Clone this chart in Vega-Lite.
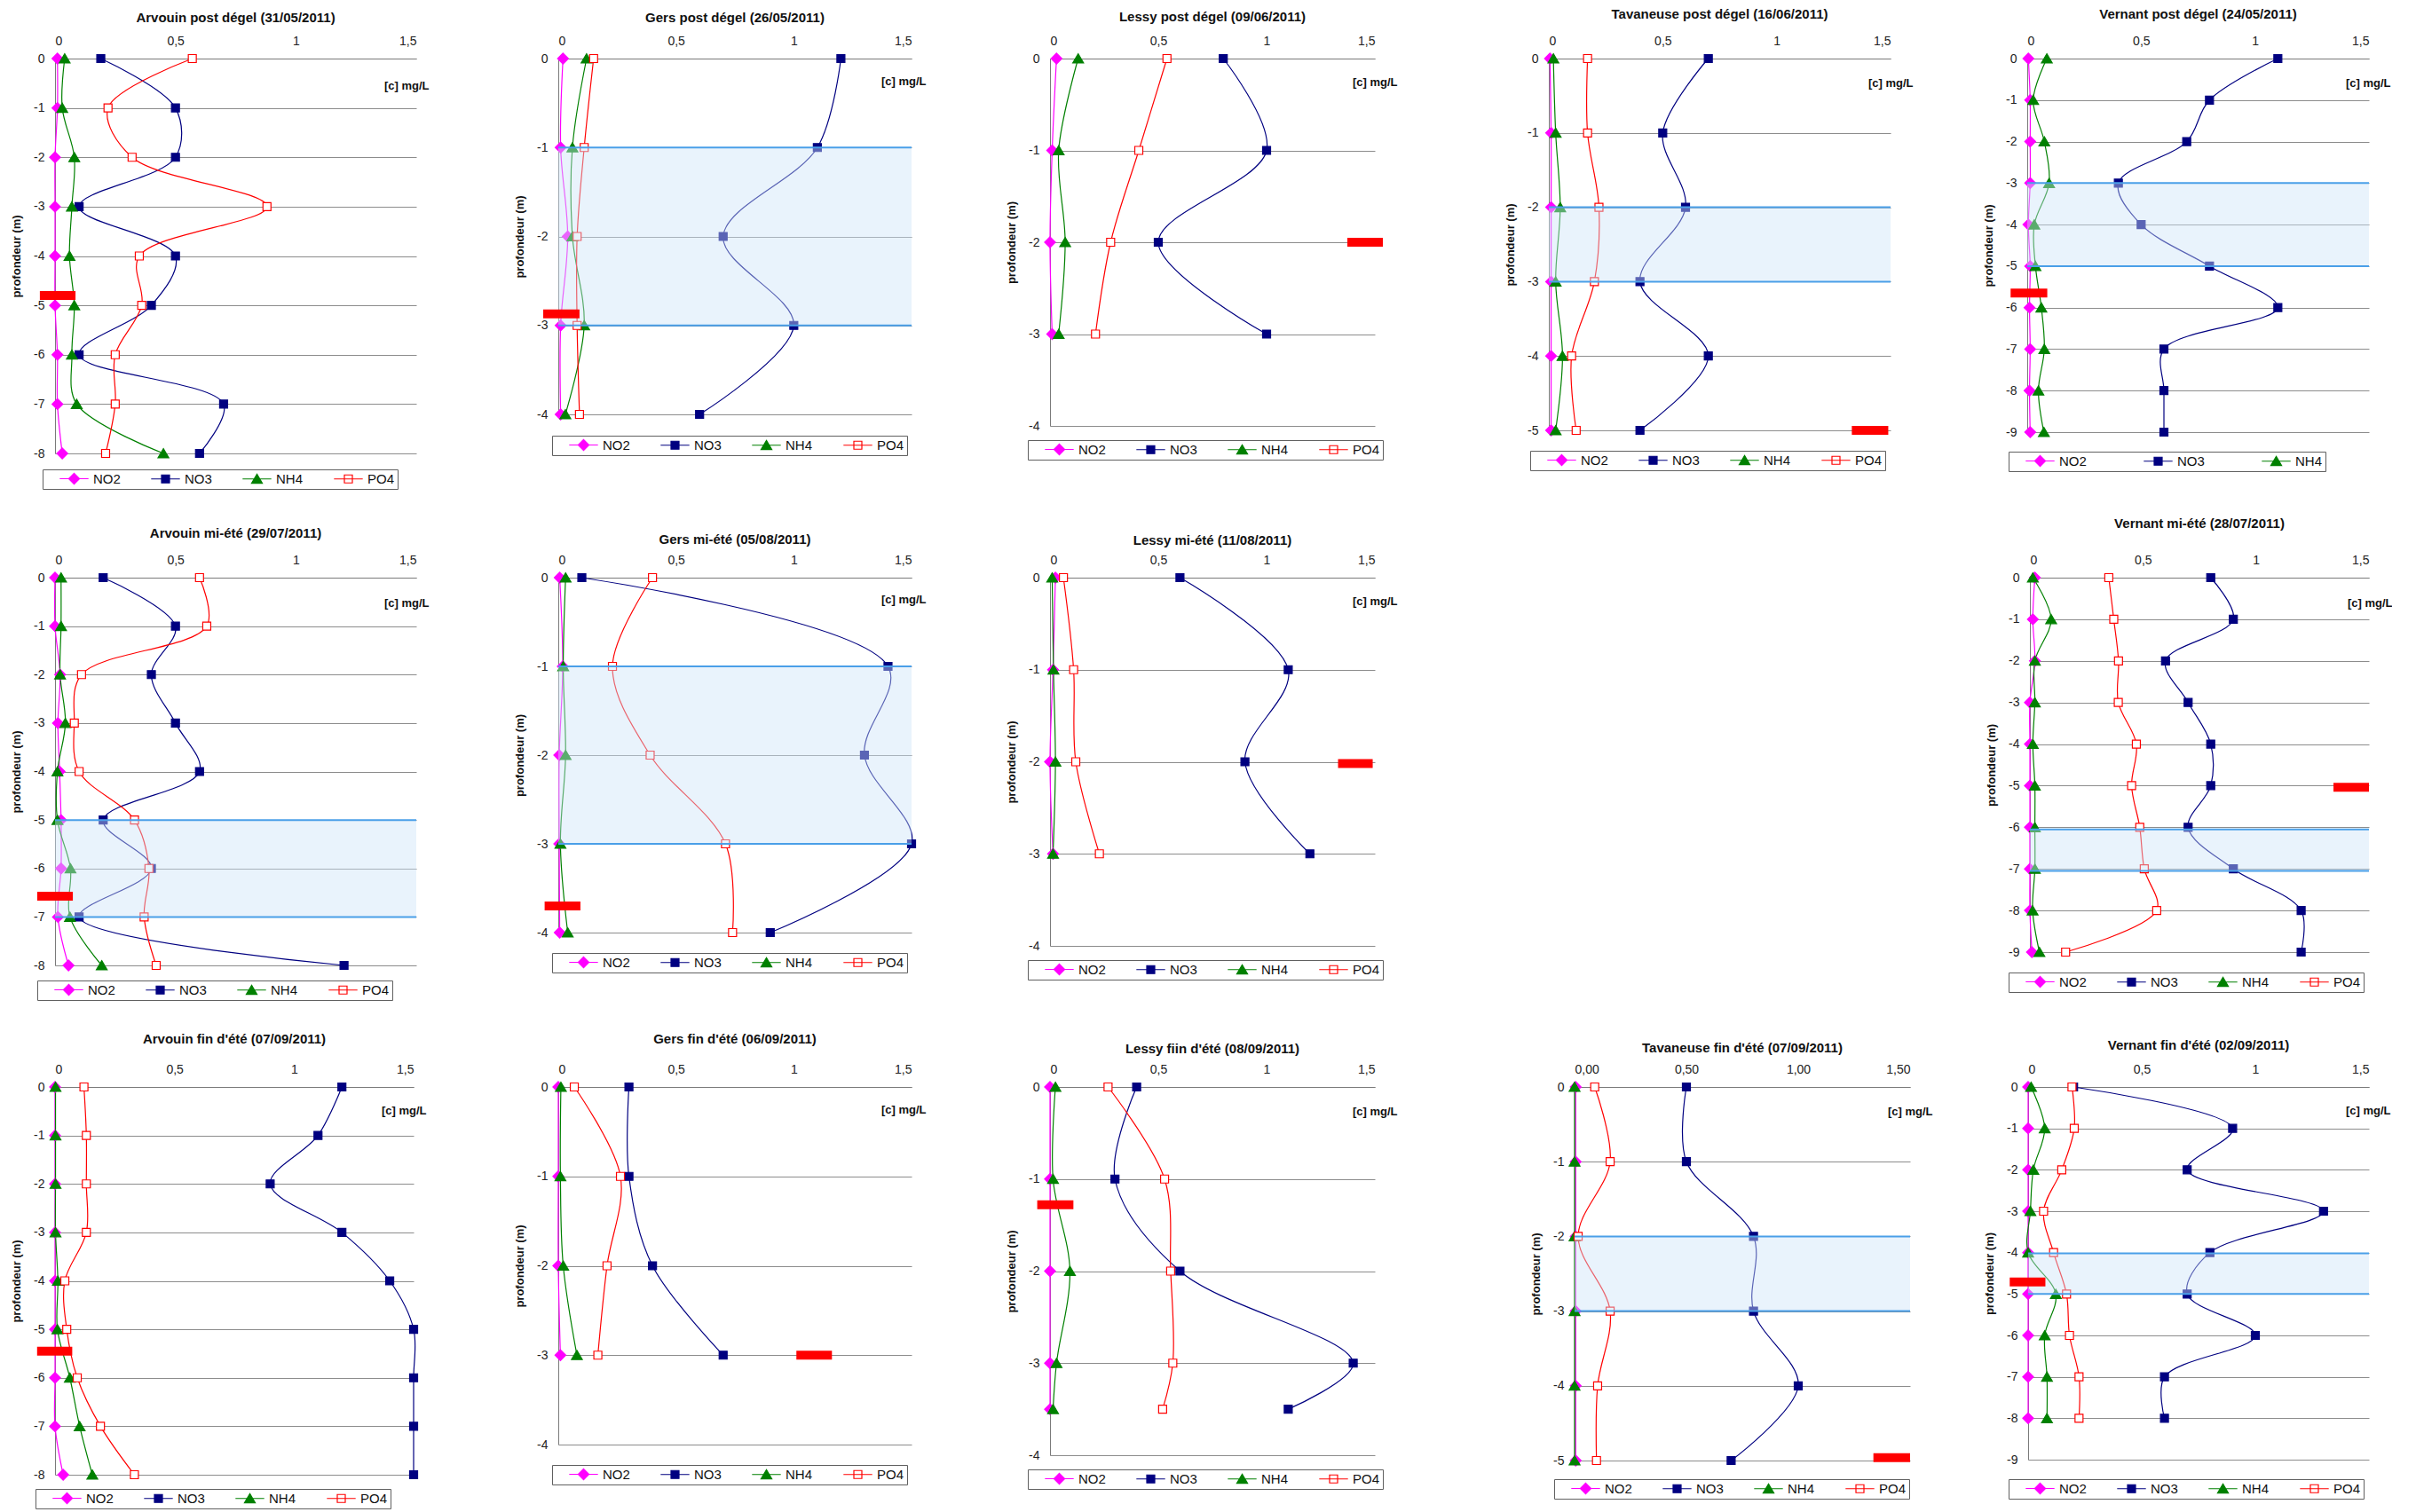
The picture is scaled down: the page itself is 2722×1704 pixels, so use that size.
{
"padding": {"left": 12, "top": 9, "right": 0, "bottom": 0}, "background": "white",
"datasets": {
 "pts": [
{"p":"AP","d":0,"NO2":0.01,"NO3":0.19,"NH4":0.04,"PO4":0.57},
{"p":"AP","d":-1,"NO2":0.01,"NO3":0.5,"NH4":0.03,"PO4":0.22},
{"p":"AP","d":-2,"NO2":0,"NO3":0.5,"NH4":0.08,"PO4":0.32},
{"p":"AP","d":-3,"NO2":0,"NO3":0.1,"NH4":0.07,"PO4":0.88},
{"p":"AP","d":-4,"NO2":0,"NO3":0.5,"NH4":0.06,"PO4":0.35},
{"p":"AP","d":-5,"NO2":0,"NO3":0.4,"NH4":0.08,"PO4":0.36},
{"p":"AP","d":-6,"NO2":0.01,"NO3":0.1,"NH4":0.07,"PO4":0.25},
{"p":"AP","d":-7,"NO2":0.01,"NO3":0.7,"NH4":0.09,"PO4":0.25},
{"p":"AP","d":-8,"NO2":0.03,"NO3":0.6,"NH4":0.45,"PO4":0.21},
{"p":"GP","d":0,"NO2":0.02,"NO3":1.2,"NH4":0.12,"PO4":0.15},
{"p":"GP","d":-1,"NO2":0.01,"NO3":1.1,"NH4":0.06,"PO4":0.11},
{"p":"GP","d":-2,"NO2":0.04,"NO3":0.7,"NH4":0.06,"PO4":0.08},
{"p":"GP","d":-3,"NO2":0.01,"NO3":1.0,"NH4":0.11,"PO4":0.08},
{"p":"GP","d":-4,"NO2":0.01,"NO3":0.6,"NH4":0.03,"PO4":0.09},
{"p":"LP","d":0,"NO2":0.03,"NO3":0.8,"NH4":0.13,"PO4":0.54},
{"p":"LP","d":-1,"NO2":0.01,"NO3":1.0,"NH4":0.04,"PO4":0.41},
{"p":"LP","d":-2,"NO2":0,"NO3":0.5,"NH4":0.07,"PO4":0.28},
{"p":"LP","d":-3,"NO2":0.01,"NO3":1.0,"NH4":0.04,"PO4":0.21},
{"p":"TP","d":0,"NO2":0.005,"NO3":0.7,"NH4":0.02,"PO4":0.17},
{"p":"TP","d":-1,"NO2":0.01,"NO3":0.5,"NH4":0.03,"PO4":0.17},
{"p":"TP","d":-2,"NO2":0.01,"NO3":0.6,"NH4":0.05,"PO4":0.22},
{"p":"TP","d":-3,"NO2":0.01,"NO3":0.4,"NH4":0.03,"PO4":0.2},
{"p":"TP","d":-4,"NO2":0.01,"NO3":0.7,"NH4":0.06,"PO4":0.1},
{"p":"TP","d":-5,"NO2":0.01,"NO3":0.4,"NH4":0.03,"PO4":0.12},
{"p":"VP","d":0,"NO2":0.005,"NO3":1.1,"NH4":0.086},
{"p":"VP","d":-1,"NO2":0.013,"NO3":0.8,"NH4":0.026},
{"p":"VP","d":-2,"NO2":0.013,"NO3":0.7,"NH4":0.075},
{"p":"VP","d":-3,"NO2":0.013,"NO3":0.4,"NH4":0.096},
{"p":"VP","d":-4,"NO2":0.005,"NO3":0.5,"NH4":0.031},
{"p":"VP","d":-5,"NO2":0.013,"NO3":0.8,"NH4":0.036},
{"p":"VP","d":-6,"NO2":0.01,"NO3":1.1,"NH4":0.062},
{"p":"VP","d":-7,"NO2":0.013,"NO3":0.6,"NH4":0.075},
{"p":"VP","d":-8,"NO2":0.01,"NO3":0.6,"NH4":0.049},
{"p":"VP","d":-9,"NO2":0.013,"NO3":0.6,"NH4":0.073},
{"p":"AM","d":0,"NO2":0,"NO3":0.2,"NH4":0.025,"PO4":0.6},
{"p":"AM","d":-1,"NO2":0,"NO3":0.5,"NH4":0.025,"PO4":0.63},
{"p":"AM","d":-2,"NO2":0.021,"NO3":0.4,"NH4":0.021,"PO4":0.11},
{"p":"AM","d":-3,"NO2":0.012,"NO3":0.5,"NH4":0.043,"PO4":0.08},
{"p":"AM","d":-4,"NO2":0.019,"NO3":0.6,"NH4":0.01,"PO4":0.1},
{"p":"AM","d":-5,"NO2":0.025,"NO3":0.2,"NH4":0.01,"PO4":0.33},
{"p":"AM","d":-6,"NO2":0.025,"NO3":0.4,"NH4":0.064,"PO4":0.39},
{"p":"AM","d":-7,"NO2":0.012,"NO3":0.1,"NH4":0.062,"PO4":0.37},
{"p":"AM","d":-8,"NO2":0.056,"NO3":1.2,"NH4":0.194,"PO4":0.42},
{"p":"GM","d":0,"NO2":0.006,"NO3":0.1,"NH4":0.031,"PO4":0.4},
{"p":"GM","d":-1,"NO2":0.019,"NO3":1.4,"NH4":0.021,"PO4":0.23},
{"p":"GM","d":-2,"NO2":0.004,"NO3":1.3,"NH4":0.031,"PO4":0.39},
{"p":"GM","d":-3,"NO2":0.004,"NO3":1.5,"NH4":0.009,"PO4":0.71},
{"p":"GM","d":-4,"NO2":0.006,"NO3":0.9,"NH4":0.04,"PO4":0.74},
{"p":"LM","d":0,"NO2":0.025,"NO3":0.6,"NH4":0.01,"PO4":0.062},
{"p":"LM","d":-1,"NO2":0.014,"NO3":1.1,"NH4":0.016,"PO4":0.109},
{"p":"LM","d":-2,"NO2":0,"NO3":0.9,"NH4":0.025,"PO4":0.119},
{"p":"LM","d":-3,"NO2":0.014,"NO3":1.2,"NH4":0.014,"PO4":0.228},
{"p":"VM","d":0,"NO2":0.022,"NO3":0.8,"NH4":0.013,"PO4":0.349},
{"p":"VM","d":-1,"NO2":0.013,"NO3":0.9,"NH4":0.094,"PO4":0.371},
{"p":"VM","d":-2,"NO2":0.022,"NO3":0.6,"NH4":0.022,"PO4":0.392},
{"p":"VM","d":-3,"NO2":0,"NO3":0.7,"NH4":0.022,"PO4":0.391},
{"p":"VM","d":-4,"NO2":0,"NO3":0.8,"NH4":0.013,"PO4":0.471},
{"p":"VM","d":-5,"NO2":0,"NO3":0.8,"NH4":0.022,"PO4":0.45},
{"p":"VM","d":-6,"NO2":0,"NO3":0.7,"NH4":0.022,"PO4":0.486},
{"p":"VM","d":-7,"NO2":0,"NO3":0.9,"NH4":0.022,"PO4":0.506},
{"p":"VM","d":-8,"NO2":0,"NO3":1.2,"NH4":0.012,"PO4":0.561},
{"p":"VM","d":-9,"NO2":0.009,"NO3":1.2,"NH4":0.042,"PO4":0.158},
{"p":"AF","d":0,"NO2":0,"NO3":1.2,"NH4":0.002,"PO4":0.121},
{"p":"AF","d":-1,"NO2":0,"NO3":1.1,"NH4":0.002,"PO4":0.131},
{"p":"AF","d":-2,"NO2":0,"NO3":0.9,"NH4":0.002,"PO4":0.131},
{"p":"AF","d":-3,"NO2":0,"NO3":1.2,"NH4":0.002,"PO4":0.131},
{"p":"AF","d":-4,"NO2":0,"NO3":1.4,"NH4":0.012,"PO4":0.041},
{"p":"AF","d":-5,"NO2":0,"NO3":1.5,"NH4":0.01,"PO4":0.049},
{"p":"AF","d":-6,"NO2":0,"NO3":1.5,"NH4":0.062,"PO4":0.093},
{"p":"AF","d":-7,"NO2":0,"NO3":1.5,"NH4":0.103,"PO4":0.19},
{"p":"AF","d":-8,"NO2":0.034,"NO3":1.5,"NH4":0.156,"PO4":0.332},
{"p":"GF","d":0,"NO2":0,"NO3":0.3,"NH4":0.011,"PO4":0.068},
{"p":"GF","d":-1,"NO2":0,"NO3":0.3,"NH4":0.009,"PO4":0.264},
{"p":"GF","d":-2,"NO2":0,"NO3":0.4,"NH4":0.021,"PO4":0.207},
{"p":"GF","d":-3,"NO2":0.009,"NO3":0.7,"NH4":0.079,"PO4":0.168},
{"p":"LF","d":0,"NO2":0,"NO3":0.4,"NH4":0.025,"PO4":0.268},
{"p":"LF","d":-1,"NO2":0,"NO3":0.3,"NH4":0.014,"PO4":0.529},
{"p":"LF","d":-2,"NO2":0,"NO3":0.6,"NH4":0.092,"PO4":0.557},
{"p":"LF","d":-3,"NO2":0,"NO3":1.4,"NH4":0.03,"PO4":0.567},
{"p":"LF","d":-3.5,"NO2":0,"NO3":1.1,"NH4":0.014,"PO4":0.52},
{"p":"TF","d":0,"NO2":0.005,"NO3":0.5,"NH4":0,"PO4":0.09},
{"p":"TF","d":-1,"NO2":0.005,"NO3":0.5,"NH4":0,"PO4":0.159},
{"p":"TF","d":-2,"NO2":0.005,"NO3":0.8,"NH4":0,"PO4":0.016},
{"p":"TF","d":-3,"NO2":0.005,"NO3":0.8,"NH4":0,"PO4":0.159},
{"p":"TF","d":-4,"NO2":0.005,"NO3":1.0,"NH4":0,"PO4":0.103},
{"p":"TF","d":-5,"NO2":0.005,"NO3":0.7,"NH4":0,"PO4":0.098},
{"p":"VF","d":0,"NO2":0,"NO3":0.2,"NH4":0.013,"PO4":0.193},
{"p":"VF","d":-1,"NO2":0,"NO3":0.9,"NH4":0.073,"PO4":0.203},
{"p":"VF","d":-2,"NO2":0,"NO3":0.7,"NH4":0.023,"PO4":0.148},
{"p":"VF","d":-3,"NO2":0,"NO3":1.3,"NH4":0.01,"PO4":0.068},
{"p":"VF","d":-4,"NO2":0,"NO3":0.8,"NH4":0,"PO4":0.112},
{"p":"VF","d":-5,"NO2":0,"NO3":0.7,"NH4":0.122,"PO4":0.169},
{"p":"VF","d":-6,"NO2":0,"NO3":1.0,"NH4":0.073,"PO4":0.182},
{"p":"VF","d":-7,"NO2":0,"NO3":0.6,"NH4":0.083,"PO4":0.224},
{"p":"VF","d":-8,"NO2":0,"NO3":0.6,"NH4":0.083,"PO4":0.224}
 ],
 "bands": [
{"p":"GP","t":-1,"b":-3,"x1":0,"x2":1.5},{"p":"TP","t":-2,"b":-3,"x1":0,"x2":1.5},{"p":"VP","t":-3,"b":-5,"x1":0,"x2":1.5},{"p":"AM","t":-5,"b":-7,"x1":0,"x2":1.5},
{"p":"GM","t":-1,"b":-3,"x1":0,"x2":1.5},{"p":"VM","t":-6.05,"b":-7.05,"x1":0,"x2":1.5},{"p":"TF","t":-2,"b":-3,"x1":0,"x2":1.5},{"p":"VF","t":-4.02,"b":-5,"x1":0,"x2":1.5}
 ],
 "secchi": [
{"p":"AP","d":-4.8,"x1":-0.063,"x2":0.085},
{"p":"GP","d":-2.87,"x1":-0.064,"x2":0.09},
{"p":"LP","d":-2.0,"x1":1.373,"x2":1.537},
{"p":"TP","d":-5.0,"x1":1.33,"x2":1.49},
{"p":"VP","d":-5.65,"x1":-0.073,"x2":0.088},
{"p":"AM","d":-6.57,"x1":-0.074,"x2":0.074},
{"p":"GM","d":-3.7,"x1":-0.058,"x2":0.094},
{"p":"LM","d":-2.02,"x1":1.33,"x2":1.49},
{"p":"VM","d":-5.04,"x1":1.343,"x2":1.5},
{"p":"AF","d":-5.45,"x1":-0.075,"x2":0.072},
{"p":"GF","d":-3.0,"x1":1.011,"x2":1.162},
{"p":"LF","d":-1.28,"x1":-0.059,"x2":0.108},
{"p":"TF","d":-4.96,"x1":1.336,"x2":1.5},
{"p":"VF","d":-4.71,"x1":-0.081,"x2":0.076}
 ]
},
"config": {
 "view": {"stroke": null},
 "font": "Liberation Sans",
 "locale": {"number": {"decimal": ",", "thousands": " ", "grouping": [3], "currency": ["", " €"], "minus": "-"}},
 "title": {"font": "Liberation Sans", "fontSize": 15, "fontWeight": "bold", "color": "#111111"},
 "axis": {"labelFont": "Liberation Sans", "labelFontSize": 14, "labelColor": "#222222", "titleFont": "Liberation Sans", "titleFontSize": 13, "titleFontWeight": "bold", "titleColor": "#111111", "domainColor": "#7a7a7a", "gridColor": "#8c8c8c", "gridOpacity": 1, "gridWidth": 1, "tickColor": "#7a7a7a"},
 "legend": {"direction": "horizontal", "columns": 4, "strokeColor": "#606060", "fillColor": "#ffffff", "padding": 3, "labelFont": "Liberation Sans", "labelFontSize": 15, "labelColor": "#111111", "symbolSize": 81, "symbolStrokeWidth": 1.2, "symbolOffset": 25, "labelOffset": 14, "columnPadding": 18, "labelLimit": 200}
},
"spacing": 0,
"resolve": {"scale": {"stroke": "independent", "fill": "independent", "shape": "independent"}},
"vconcat": [
{"spacing": 0, "resolve": {"scale": {"stroke": "independent", "fill": "independent", "shape": "independent"}},
 "hconcat": [
 {"width": 407, "height": 445, "title": {"text": "Arvouin post dégel (31/05/2011)", "offset": 11},
  "resolve": {"scale": {"stroke": "independent", "fill": "independent", "shape": "independent"}},
  "layer": [
   {"data": {"name": "pts"}, "transform": [{"filter": "datum.p=='AP'"}, {"fold": ["NO2","NO3","NH4","PO4"], "as": ["s","v"]}],
    "mark": {"type": "line", "interpolate": "catmull-rom", "strokeWidth": 1.2},
    "encoding": {
     "x": {"field": "v", "type": "quantitative", "title": "[c] mg/L", "scale": {"domain": [0,1.5], "nice": false, "zero": false},
      "axis": {"orient": "top", "values": [0,0.5,1,1.5], "format": ".1~f", "titleX": 421, "titleY": 30, "titleAlign": "right", "titleBaseline": "middle", "titleAngle": 0, "grid": false, "ticks": false, "labelPadding": 13}},
     "y": {"field": "d", "type": "quantitative", "title": "profondeur (m)", "scale": {"domain": [-8,0], "nice": false, "zero": false},
      "axis": {"values": [0,-1,-2,-3,-4,-5,-6,-7,-8], "format": "d", "grid": true, "ticks": false, "labelPadding": 12, "titlePadding": 12}},
     "stroke": {"field": "s", "type": "nominal", "scale": {"domain": ["NO2","NO3","NH4","PO4"], "range": ["#FF00FF","#000080","#008000","#FF0000"]}, "legend": null},
     "order": {"field": "d", "type": "quantitative"}}},
   {"data": {"name": "pts"}, "transform": [{"filter": "datum.p=='AP'"}, {"fold": ["NO2","NO3","NH4","PO4"], "as": ["s","v"]}],
    "mark": {"type": "point", "filled": true, "size": 81, "strokeWidth": 1.2, "opacity": 1},
    "encoding": {"x": {"field": "v", "type": "quantitative", "title": "[c] mg/L"}, "y": {"field": "d", "type": "quantitative", "title": "profondeur (m)"},
     "stroke": {"field": "s", "type": "nominal", "scale": {"domain": ["NO2","NO3","NH4","PO4"], "range": ["#FF00FF","#000080","#008000","#FF0000"]}, "legend": null},
     "fill": {"field": "s", "type": "nominal", "scale": {"domain": ["NO2","NO3","NH4","PO4"], "range": ["#FF00FF","#000080","#008000","#FFFFFF"]}, "legend": null},
     "shape": {"field": "s", "type": "nominal", "scale": {"domain": ["NO2","NO3","NH4","PO4"], "range": ["M0,-1.35L1.35,0L0,1.35L-1.35,0Z","M-1,-1H1V1H-1Z","M0,-1.2L1.35,1.1H-1.35Z","M-1,-1H1V1H-1Z"]}, "legend": null}}},
   {"data": {"name": "secchi"}, "transform": [{"filter": "datum.p=='AP'"}], "mark": {"type": "rule", "stroke": "#FF0000", "strokeWidth": 10, "strokeCap": "butt"},
    "encoding": {"x": {"field": "x1", "type": "quantitative", "title": "[c] mg/L"}, "x2": {"field": "x2"}, "y": {"field": "d", "type": "quantitative", "title": "profondeur (m)"}}},
   {"data": {"name": "pts"}, "transform": [{"filter": "datum.p=='none'"}, {"fold": ["NO2","NO3","NH4","PO4"], "as": ["s","v"]}],
    "mark": {"type": "point", "filled": true, "opacity": 1, "strokeWidth": 1.2},
    "encoding": {"x": {"field": "v", "type": "quantitative", "title": "[c] mg/L"}, "y": {"field": "d", "type": "quantitative", "title": "profondeur (m)"},
     "shape": {"field": "s", "type": "nominal", "scale": {"domain": ["NO2","NO3","NH4","PO4"], "range": ["M-3.6,0H3.6M0,-1.35L1.35,0L0,1.35L-1.35,0Z","M-3.6,0H3.6M-1,-1H1V1H-1Z","M-3.6,0H3.6M0,-1.2L1.35,1.1H-1.35Z","M-3.6,0H3.6M-1,-1H1V1H-1Z"]}, "legend": {"title": null, "orient": "none", "legendX": -14, "legendY": 463}},
     "fill": {"field": "s", "type": "nominal", "scale": {"domain": ["NO2","NO3","NH4","PO4"], "range": ["#FF00FF","#000080","#008000","#FFFFFF"]}, "legend": {"title": null, "orient": "none", "legendX": -14, "legendY": 463}},
     "stroke": {"field": "s", "type": "nominal", "scale": {"domain": ["NO2","NO3","NH4","PO4"], "range": ["#FF00FF","#000080","#008000","#FF0000"]}, "legend": {"title": null, "orient": "none", "legendX": -14, "legendY": 463}}}}
  ]},
 {"data": {"values": []}, "mark": "point", "width": 96, "height": 1},
 {"width": 398, "height": 401, "title": {"text": "Gers post dégel (26/05/2011)", "offset": 11},
  "resolve": {"scale": {"stroke": "independent", "fill": "independent", "shape": "independent"}},
  "layer": [
   {"data": {"name": "pts"}, "transform": [{"filter": "datum.p=='GP'"}, {"fold": ["NO2","NO3","NH4","PO4"], "as": ["s","v"]}],
    "mark": {"type": "line", "interpolate": "catmull-rom", "strokeWidth": 1.2},
    "encoding": {
     "x": {"field": "v", "type": "quantitative", "title": "[c] mg/L", "scale": {"domain": [0,1.5], "nice": false, "zero": false},
      "axis": {"orient": "top", "values": [0,0.5,1,1.5], "format": ".1~f", "titleX": 414, "titleY": 25, "titleAlign": "right", "titleBaseline": "middle", "titleAngle": 0, "grid": false, "ticks": false, "labelPadding": 13}},
     "y": {"field": "d", "type": "quantitative", "title": "profondeur (m)", "scale": {"domain": [-4,0], "nice": false, "zero": false},
      "axis": {"values": [0,-1,-2,-3,-4], "format": "d", "grid": true, "ticks": false, "labelPadding": 12, "titlePadding": 12}},
     "stroke": {"field": "s", "type": "nominal", "scale": {"domain": ["NO2","NO3","NH4","PO4"], "range": ["#FF00FF","#000080","#008000","#FF0000"]}, "legend": null},
     "order": {"field": "d", "type": "quantitative"}}},
   {"data": {"name": "pts"}, "transform": [{"filter": "datum.p=='GP'"}, {"fold": ["NO2","NO3","NH4","PO4"], "as": ["s","v"]}],
    "mark": {"type": "point", "filled": true, "size": 81, "strokeWidth": 1.2, "opacity": 1},
    "encoding": {"x": {"field": "v", "type": "quantitative", "title": "[c] mg/L"}, "y": {"field": "d", "type": "quantitative", "title": "profondeur (m)"},
     "stroke": {"field": "s", "type": "nominal", "scale": {"domain": ["NO2","NO3","NH4","PO4"], "range": ["#FF00FF","#000080","#008000","#FF0000"]}, "legend": null},
     "fill": {"field": "s", "type": "nominal", "scale": {"domain": ["NO2","NO3","NH4","PO4"], "range": ["#FF00FF","#000080","#008000","#FFFFFF"]}, "legend": null},
     "shape": {"field": "s", "type": "nominal", "scale": {"domain": ["NO2","NO3","NH4","PO4"], "range": ["M0,-1.35L1.35,0L0,1.35L-1.35,0Z","M-1,-1H1V1H-1Z","M0,-1.2L1.35,1.1H-1.35Z","M-1,-1H1V1H-1Z"]}, "legend": null}}},
   {"data": {"name": "bands"}, "transform": [{"filter": "datum.p=='GP'"}], "mark": {"type": "rect", "fill": "#CCE3F8", "opacity": 0.44},
    "encoding": {"x": {"field": "x1", "type": "quantitative", "title": "[c] mg/L"}, "x2": {"field": "x2"}, "y": {"field": "t", "type": "quantitative", "title": "profondeur (m)"}, "y2": {"field": "b"}}},
   {"data": {"name": "bands"}, "transform": [{"filter": "datum.p=='GP'"}], "mark": {"type": "rule", "stroke": "#4A9FE8", "strokeWidth": 2},
    "encoding": {"x": {"field": "x1", "type": "quantitative", "title": "[c] mg/L"}, "x2": {"field": "x2"}, "y": {"field": "t", "type": "quantitative", "title": "profondeur (m)"}}},
   {"data": {"name": "bands"}, "transform": [{"filter": "datum.p=='GP'"}], "mark": {"type": "rule", "stroke": "#4A9FE8", "strokeWidth": 2},
    "encoding": {"x": {"field": "x1", "type": "quantitative", "title": "[c] mg/L"}, "x2": {"field": "x2"}, "y": {"field": "b", "type": "quantitative", "title": "profondeur (m)"}}},
   {"data": {"name": "secchi"}, "transform": [{"filter": "datum.p=='GP'"}], "mark": {"type": "rule", "stroke": "#FF0000", "strokeWidth": 10, "strokeCap": "butt"},
    "encoding": {"x": {"field": "x1", "type": "quantitative", "title": "[c] mg/L"}, "x2": {"field": "x2"}, "y": {"field": "d", "type": "quantitative", "title": "profondeur (m)"}}},
   {"data": {"name": "pts"}, "transform": [{"filter": "datum.p=='none'"}, {"fold": ["NO2","NO3","NH4","PO4"], "as": ["s","v"]}],
    "mark": {"type": "point", "filled": true, "opacity": 1, "strokeWidth": 1.2},
    "encoding": {"x": {"field": "v", "type": "quantitative", "title": "[c] mg/L"}, "y": {"field": "d", "type": "quantitative", "title": "profondeur (m)"},
     "shape": {"field": "s", "type": "nominal", "scale": {"domain": ["NO2","NO3","NH4","PO4"], "range": ["M-3.6,0H3.6M0,-1.35L1.35,0L0,1.35L-1.35,0Z","M-3.6,0H3.6M-1,-1H1V1H-1Z","M-3.6,0H3.6M0,-1.2L1.35,1.1H-1.35Z","M-3.6,0H3.6M-1,-1H1V1H-1Z"]}, "legend": {"title": null, "orient": "none", "legendX": -7, "legendY": 425}},
     "fill": {"field": "s", "type": "nominal", "scale": {"domain": ["NO2","NO3","NH4","PO4"], "range": ["#FF00FF","#000080","#008000","#FFFFFF"]}, "legend": {"title": null, "orient": "none", "legendX": -7, "legendY": 425}},
     "stroke": {"field": "s", "type": "nominal", "scale": {"domain": ["NO2","NO3","NH4","PO4"], "range": ["#FF00FF","#000080","#008000","#FF0000"]}, "legend": {"title": null, "orient": "none", "legendX": -7, "legendY": 425}}}}
  ]},
 {"data": {"values": []}, "mark": "point", "width": 90, "height": 1},
 {"width": 366, "height": 414, "title": {"text": "Lessy post dégel (09/06/2011)", "offset": 12},
  "resolve": {"scale": {"stroke": "independent", "fill": "independent", "shape": "independent"}},
  "layer": [
   {"data": {"name": "pts"}, "transform": [{"filter": "datum.p=='LP'"}, {"fold": ["NO2","NO3","NH4","PO4"], "as": ["s","v"]}],
    "mark": {"type": "line", "interpolate": "catmull-rom", "strokeWidth": 1.2},
    "encoding": {
     "x": {"field": "v", "type": "quantitative", "title": "[c] mg/L", "scale": {"domain": [0,1.5], "nice": false, "zero": false},
      "axis": {"orient": "top", "values": [0,0.5,1,1.5], "format": ".1~f", "titleX": 391, "titleY": 26, "titleAlign": "right", "titleBaseline": "middle", "titleAngle": 0, "grid": false, "ticks": false, "labelPadding": 13}},
     "y": {"field": "d", "type": "quantitative", "title": "profondeur (m)", "scale": {"domain": [-4,0], "nice": false, "zero": false},
      "axis": {"values": [0,-1,-2,-3,-4], "format": "d", "grid": true, "ticks": false, "labelPadding": 12, "titlePadding": 12}},
     "stroke": {"field": "s", "type": "nominal", "scale": {"domain": ["NO2","NO3","NH4","PO4"], "range": ["#FF00FF","#000080","#008000","#FF0000"]}, "legend": null},
     "order": {"field": "d", "type": "quantitative"}}},
   {"data": {"name": "pts"}, "transform": [{"filter": "datum.p=='LP'"}, {"fold": ["NO2","NO3","NH4","PO4"], "as": ["s","v"]}],
    "mark": {"type": "point", "filled": true, "size": 81, "strokeWidth": 1.2, "opacity": 1},
    "encoding": {"x": {"field": "v", "type": "quantitative", "title": "[c] mg/L"}, "y": {"field": "d", "type": "quantitative", "title": "profondeur (m)"},
     "stroke": {"field": "s", "type": "nominal", "scale": {"domain": ["NO2","NO3","NH4","PO4"], "range": ["#FF00FF","#000080","#008000","#FF0000"]}, "legend": null},
     "fill": {"field": "s", "type": "nominal", "scale": {"domain": ["NO2","NO3","NH4","PO4"], "range": ["#FF00FF","#000080","#008000","#FFFFFF"]}, "legend": null},
     "shape": {"field": "s", "type": "nominal", "scale": {"domain": ["NO2","NO3","NH4","PO4"], "range": ["M0,-1.35L1.35,0L0,1.35L-1.35,0Z","M-1,-1H1V1H-1Z","M0,-1.2L1.35,1.1H-1.35Z","M-1,-1H1V1H-1Z"]}, "legend": null}}},
   {"data": {"name": "secchi"}, "transform": [{"filter": "datum.p=='LP'"}], "mark": {"type": "rule", "stroke": "#FF0000", "strokeWidth": 10, "strokeCap": "butt"},
    "encoding": {"x": {"field": "x1", "type": "quantitative", "title": "[c] mg/L"}, "x2": {"field": "x2"}, "y": {"field": "d", "type": "quantitative", "title": "profondeur (m)"}}},
   {"data": {"name": "pts"}, "transform": [{"filter": "datum.p=='none'"}, {"fold": ["NO2","NO3","NH4","PO4"], "as": ["s","v"]}],
    "mark": {"type": "point", "filled": true, "opacity": 1, "strokeWidth": 1.2},
    "encoding": {"x": {"field": "v", "type": "quantitative", "title": "[c] mg/L"}, "y": {"field": "d", "type": "quantitative", "title": "profondeur (m)"},
     "shape": {"field": "s", "type": "nominal", "scale": {"domain": ["NO2","NO3","NH4","PO4"], "range": ["M-3.6,0H3.6M0,-1.35L1.35,0L0,1.35L-1.35,0Z","M-3.6,0H3.6M-1,-1H1V1H-1Z","M-3.6,0H3.6M0,-1.2L1.35,1.1H-1.35Z","M-3.6,0H3.6M-1,-1H1V1H-1Z"]}, "legend": {"title": null, "orient": "none", "legendX": -25, "legendY": 430}},
     "fill": {"field": "s", "type": "nominal", "scale": {"domain": ["NO2","NO3","NH4","PO4"], "range": ["#FF00FF","#000080","#008000","#FFFFFF"]}, "legend": {"title": null, "orient": "none", "legendX": -25, "legendY": 430}},
     "stroke": {"field": "s", "type": "nominal", "scale": {"domain": ["NO2","NO3","NH4","PO4"], "range": ["#FF00FF","#000080","#008000","#FF0000"]}, "legend": {"title": null, "orient": "none", "legendX": -25, "legendY": 430}}}}
  ]},
 {"data": {"values": []}, "mark": "point", "width": 121, "height": 1},
 {"width": 385, "height": 419, "title": {"text": "Tavaneuse post dégel (16/06/2011)", "offset": 15},
  "resolve": {"scale": {"stroke": "independent", "fill": "independent", "shape": "independent"}},
  "layer": [
   {"data": {"name": "pts"}, "transform": [{"filter": "datum.p=='TP'"}, {"fold": ["NO2","NO3","NH4","PO4"], "as": ["s","v"]}],
    "mark": {"type": "line", "interpolate": "catmull-rom", "strokeWidth": 1.2},
    "encoding": {
     "x": {"field": "v", "type": "quantitative", "title": "[c] mg/L", "scale": {"domain": [0,1.5], "nice": false, "zero": false},
      "axis": {"orient": "top", "values": [0,0.5,1,1.5], "format": ".1~f", "titleX": 410, "titleY": 27, "titleAlign": "right", "titleBaseline": "middle", "titleAngle": 0, "grid": false, "ticks": false, "labelPadding": 13}},
     "y": {"field": "d", "type": "quantitative", "title": "profondeur (m)", "scale": {"domain": [-5,0], "nice": false, "zero": false},
      "axis": {"values": [0,-1,-2,-3,-4,-5], "format": "d", "grid": true, "ticks": false, "labelPadding": 12, "titlePadding": 12}},
     "stroke": {"field": "s", "type": "nominal", "scale": {"domain": ["NO2","NO3","NH4","PO4"], "range": ["#FF00FF","#000080","#008000","#FF0000"]}, "legend": null},
     "order": {"field": "d", "type": "quantitative"}}},
   {"data": {"name": "pts"}, "transform": [{"filter": "datum.p=='TP'"}, {"fold": ["NO2","NO3","NH4","PO4"], "as": ["s","v"]}],
    "mark": {"type": "point", "filled": true, "size": 81, "strokeWidth": 1.2, "opacity": 1},
    "encoding": {"x": {"field": "v", "type": "quantitative", "title": "[c] mg/L"}, "y": {"field": "d", "type": "quantitative", "title": "profondeur (m)"},
     "stroke": {"field": "s", "type": "nominal", "scale": {"domain": ["NO2","NO3","NH4","PO4"], "range": ["#FF00FF","#000080","#008000","#FF0000"]}, "legend": null},
     "fill": {"field": "s", "type": "nominal", "scale": {"domain": ["NO2","NO3","NH4","PO4"], "range": ["#FF00FF","#000080","#008000","#FFFFFF"]}, "legend": null},
     "shape": {"field": "s", "type": "nominal", "scale": {"domain": ["NO2","NO3","NH4","PO4"], "range": ["M0,-1.35L1.35,0L0,1.35L-1.35,0Z","M-1,-1H1V1H-1Z","M0,-1.2L1.35,1.1H-1.35Z","M-1,-1H1V1H-1Z"]}, "legend": null}}},
   {"data": {"name": "bands"}, "transform": [{"filter": "datum.p=='TP'"}], "mark": {"type": "rect", "fill": "#CCE3F8", "opacity": 0.44},
    "encoding": {"x": {"field": "x1", "type": "quantitative", "title": "[c] mg/L"}, "x2": {"field": "x2"}, "y": {"field": "t", "type": "quantitative", "title": "profondeur (m)"}, "y2": {"field": "b"}}},
   {"data": {"name": "bands"}, "transform": [{"filter": "datum.p=='TP'"}], "mark": {"type": "rule", "stroke": "#4A9FE8", "strokeWidth": 2},
    "encoding": {"x": {"field": "x1", "type": "quantitative", "title": "[c] mg/L"}, "x2": {"field": "x2"}, "y": {"field": "t", "type": "quantitative", "title": "profondeur (m)"}}},
   {"data": {"name": "bands"}, "transform": [{"filter": "datum.p=='TP'"}], "mark": {"type": "rule", "stroke": "#4A9FE8", "strokeWidth": 2},
    "encoding": {"x": {"field": "x1", "type": "quantitative", "title": "[c] mg/L"}, "x2": {"field": "x2"}, "y": {"field": "b", "type": "quantitative", "title": "profondeur (m)"}}},
   {"data": {"name": "secchi"}, "transform": [{"filter": "datum.p=='TP'"}], "mark": {"type": "rule", "stroke": "#FF0000", "strokeWidth": 10, "strokeCap": "butt"},
    "encoding": {"x": {"field": "x1", "type": "quantitative", "title": "[c] mg/L"}, "x2": {"field": "x2"}, "y": {"field": "d", "type": "quantitative", "title": "profondeur (m)"}}},
   {"data": {"name": "pts"}, "transform": [{"filter": "datum.p=='none'"}, {"fold": ["NO2","NO3","NH4","PO4"], "as": ["s","v"]}],
    "mark": {"type": "point", "filled": true, "opacity": 1, "strokeWidth": 1.2},
    "encoding": {"x": {"field": "v", "type": "quantitative", "title": "[c] mg/L"}, "y": {"field": "d", "type": "quantitative", "title": "profondeur (m)"},
     "shape": {"field": "s", "type": "nominal", "scale": {"domain": ["NO2","NO3","NH4","PO4"], "range": ["M-3.6,0H3.6M0,-1.35L1.35,0L0,1.35L-1.35,0Z","M-3.6,0H3.6M-1,-1H1V1H-1Z","M-3.6,0H3.6M0,-1.2L1.35,1.1H-1.35Z","M-3.6,0H3.6M-1,-1H1V1H-1Z"]}, "legend": {"title": null, "orient": "none", "legendX": -21, "legendY": 442}},
     "fill": {"field": "s", "type": "nominal", "scale": {"domain": ["NO2","NO3","NH4","PO4"], "range": ["#FF00FF","#000080","#008000","#FFFFFF"]}, "legend": {"title": null, "orient": "none", "legendX": -21, "legendY": 442}},
     "stroke": {"field": "s", "type": "nominal", "scale": {"domain": ["NO2","NO3","NH4","PO4"], "range": ["#FF00FF","#000080","#008000","#FF0000"]}, "legend": {"title": null, "orient": "none", "legendX": -21, "legendY": 442}}}}
  ]},
 {"data": {"values": []}, "mark": "point", "width": 79, "height": 1},
 {"width": 385, "height": 421, "title": {"text": "Vernant post dégel (24/05/2011)", "offset": 15},
  "resolve": {"scale": {"stroke": "independent", "fill": "independent", "shape": "independent"}},
  "layer": [
   {"data": {"name": "pts"}, "transform": [{"filter": "datum.p=='VP'"}, {"fold": ["NO2","NO3","NH4"], "as": ["s","v"]}],
    "mark": {"type": "line", "interpolate": "catmull-rom", "strokeWidth": 1.2},
    "encoding": {
     "x": {"field": "v", "type": "quantitative", "title": "[c] mg/L", "scale": {"domain": [0,1.5], "nice": false, "zero": false},
      "axis": {"orient": "top", "values": [0,0.5,1,1.5], "format": ".1~f", "titleX": 409, "titleY": 27, "titleAlign": "right", "titleBaseline": "middle", "titleAngle": 0, "grid": false, "ticks": false, "labelPadding": 13}},
     "y": {"field": "d", "type": "quantitative", "title": "profondeur (m)", "scale": {"domain": [-9,0], "nice": false, "zero": false},
      "axis": {"values": [0,-1,-2,-3,-4,-5,-6,-7,-8,-9], "format": "d", "grid": true, "ticks": false, "labelPadding": 12, "titlePadding": 12}},
     "stroke": {"field": "s", "type": "nominal", "scale": {"domain": ["NO2","NO3","NH4"], "range": ["#FF00FF","#000080","#008000"]}, "legend": null},
     "order": {"field": "d", "type": "quantitative"}}},
   {"data": {"name": "pts"}, "transform": [{"filter": "datum.p=='VP'"}, {"fold": ["NO2","NO3","NH4"], "as": ["s","v"]}],
    "mark": {"type": "point", "filled": true, "size": 81, "strokeWidth": 1.2, "opacity": 1},
    "encoding": {"x": {"field": "v", "type": "quantitative", "title": "[c] mg/L"}, "y": {"field": "d", "type": "quantitative", "title": "profondeur (m)"},
     "stroke": {"field": "s", "type": "nominal", "scale": {"domain": ["NO2","NO3","NH4"], "range": ["#FF00FF","#000080","#008000"]}, "legend": null},
     "fill": {"field": "s", "type": "nominal", "scale": {"domain": ["NO2","NO3","NH4"], "range": ["#FF00FF","#000080","#008000"]}, "legend": null},
     "shape": {"field": "s", "type": "nominal", "scale": {"domain": ["NO2","NO3","NH4"], "range": ["M0,-1.35L1.35,0L0,1.35L-1.35,0Z","M-1,-1H1V1H-1Z","M0,-1.2L1.35,1.1H-1.35Z"]}, "legend": null}}},
   {"data": {"name": "bands"}, "transform": [{"filter": "datum.p=='VP'"}], "mark": {"type": "rect", "fill": "#CCE3F8", "opacity": 0.44},
    "encoding": {"x": {"field": "x1", "type": "quantitative", "title": "[c] mg/L"}, "x2": {"field": "x2"}, "y": {"field": "t", "type": "quantitative", "title": "profondeur (m)"}, "y2": {"field": "b"}}},
   {"data": {"name": "bands"}, "transform": [{"filter": "datum.p=='VP'"}], "mark": {"type": "rule", "stroke": "#4A9FE8", "strokeWidth": 2},
    "encoding": {"x": {"field": "x1", "type": "quantitative", "title": "[c] mg/L"}, "x2": {"field": "x2"}, "y": {"field": "t", "type": "quantitative", "title": "profondeur (m)"}}},
   {"data": {"name": "bands"}, "transform": [{"filter": "datum.p=='VP'"}], "mark": {"type": "rule", "stroke": "#4A9FE8", "strokeWidth": 2},
    "encoding": {"x": {"field": "x1", "type": "quantitative", "title": "[c] mg/L"}, "x2": {"field": "x2"}, "y": {"field": "b", "type": "quantitative", "title": "profondeur (m)"}}},
   {"data": {"name": "secchi"}, "transform": [{"filter": "datum.p=='VP'"}], "mark": {"type": "rule", "stroke": "#FF0000", "strokeWidth": 10, "strokeCap": "butt"},
    "encoding": {"x": {"field": "x1", "type": "quantitative", "title": "[c] mg/L"}, "x2": {"field": "x2"}, "y": {"field": "d", "type": "quantitative", "title": "profondeur (m)"}}},
   {"data": {"name": "pts"}, "transform": [{"filter": "datum.p=='none'"}, {"fold": ["NO2","NO3","NH4"], "as": ["s","v"]}],
    "mark": {"type": "point", "filled": true, "opacity": 1, "strokeWidth": 1.2},
    "encoding": {"x": {"field": "v", "type": "quantitative", "title": "[c] mg/L"}, "y": {"field": "d", "type": "quantitative", "title": "profondeur (m)"},
     "shape": {"field": "s", "type": "nominal", "scale": {"domain": ["NO2","NO3","NH4"], "range": ["M-3.6,0H3.6M0,-1.35L1.35,0L0,1.35L-1.35,0Z","M-3.6,0H3.6M-1,-1H1V1H-1Z","M-3.6,0H3.6M0,-1.2L1.35,1.1H-1.35Z"]}, "legend": {"title": null, "orient": "none", "legendX": -21, "legendY": 443, "columnPadding": 48}},
     "fill": {"field": "s", "type": "nominal", "scale": {"domain": ["NO2","NO3","NH4"], "range": ["#FF00FF","#000080","#008000"]}, "legend": {"title": null, "orient": "none", "legendX": -21, "legendY": 443, "columnPadding": 48}},
     "stroke": {"field": "s", "type": "nominal", "scale": {"domain": ["NO2","NO3","NH4"], "range": ["#FF00FF","#000080","#008000"]}, "legend": {"title": null, "orient": "none", "legendX": -21, "legendY": 443, "columnPadding": 48}}}}
  ]}
 ]},
{"data": {"values": []}, "mark": "point", "width": 1, "height": 31},
{"spacing": 0, "resolve": {"scale": {"stroke": "independent", "fill": "independent", "shape": "independent"}},
 "hconcat": [
 {"width": 407, "height": 437, "title": {"text": "Arvouin mi-été (29/07/2011)", "offset": 15},
  "resolve": {"scale": {"stroke": "independent", "fill": "independent", "shape": "independent"}},
  "layer": [
   {"data": {"name": "pts"}, "transform": [{"filter": "datum.p=='AM'"}, {"fold": ["NO2","NO3","NH4","PO4"], "as": ["s","v"]}],
    "mark": {"type": "line", "interpolate": "catmull-rom", "strokeWidth": 1.2},
    "encoding": {
     "x": {"field": "v", "type": "quantitative", "title": "[c] mg/L", "scale": {"domain": [0,1.5], "nice": false, "zero": false},
      "axis": {"orient": "top", "values": [0,0.5,1,1.5], "format": ".1~f", "titleX": 421, "titleY": 28, "titleAlign": "right", "titleBaseline": "middle", "titleAngle": 0, "grid": false, "ticks": false, "labelPadding": 13}},
     "y": {"field": "d", "type": "quantitative", "title": "profondeur (m)", "scale": {"domain": [-8,0], "nice": false, "zero": false},
      "axis": {"values": [0,-1,-2,-3,-4,-5,-6,-7,-8], "format": "d", "grid": true, "ticks": false, "labelPadding": 12, "titlePadding": 12}},
     "stroke": {"field": "s", "type": "nominal", "scale": {"domain": ["NO2","NO3","NH4","PO4"], "range": ["#FF00FF","#000080","#008000","#FF0000"]}, "legend": null},
     "order": {"field": "d", "type": "quantitative"}}},
   {"data": {"name": "pts"}, "transform": [{"filter": "datum.p=='AM'"}, {"fold": ["NO2","NO3","NH4","PO4"], "as": ["s","v"]}],
    "mark": {"type": "point", "filled": true, "size": 81, "strokeWidth": 1.2, "opacity": 1},
    "encoding": {"x": {"field": "v", "type": "quantitative", "title": "[c] mg/L"}, "y": {"field": "d", "type": "quantitative", "title": "profondeur (m)"},
     "stroke": {"field": "s", "type": "nominal", "scale": {"domain": ["NO2","NO3","NH4","PO4"], "range": ["#FF00FF","#000080","#008000","#FF0000"]}, "legend": null},
     "fill": {"field": "s", "type": "nominal", "scale": {"domain": ["NO2","NO3","NH4","PO4"], "range": ["#FF00FF","#000080","#008000","#FFFFFF"]}, "legend": null},
     "shape": {"field": "s", "type": "nominal", "scale": {"domain": ["NO2","NO3","NH4","PO4"], "range": ["M0,-1.35L1.35,0L0,1.35L-1.35,0Z","M-1,-1H1V1H-1Z","M0,-1.2L1.35,1.1H-1.35Z","M-1,-1H1V1H-1Z"]}, "legend": null}}},
   {"data": {"name": "bands"}, "transform": [{"filter": "datum.p=='AM'"}], "mark": {"type": "rect", "fill": "#CCE3F8", "opacity": 0.44},
    "encoding": {"x": {"field": "x1", "type": "quantitative", "title": "[c] mg/L"}, "x2": {"field": "x2"}, "y": {"field": "t", "type": "quantitative", "title": "profondeur (m)"}, "y2": {"field": "b"}}},
   {"data": {"name": "bands"}, "transform": [{"filter": "datum.p=='AM'"}], "mark": {"type": "rule", "stroke": "#4A9FE8", "strokeWidth": 2},
    "encoding": {"x": {"field": "x1", "type": "quantitative", "title": "[c] mg/L"}, "x2": {"field": "x2"}, "y": {"field": "t", "type": "quantitative", "title": "profondeur (m)"}}},
   {"data": {"name": "bands"}, "transform": [{"filter": "datum.p=='AM'"}], "mark": {"type": "rule", "stroke": "#4A9FE8", "strokeWidth": 2},
    "encoding": {"x": {"field": "x1", "type": "quantitative", "title": "[c] mg/L"}, "x2": {"field": "x2"}, "y": {"field": "b", "type": "quantitative", "title": "profondeur (m)"}}},
   {"data": {"name": "secchi"}, "transform": [{"filter": "datum.p=='AM'"}], "mark": {"type": "rule", "stroke": "#FF0000", "strokeWidth": 10, "strokeCap": "butt"},
    "encoding": {"x": {"field": "x1", "type": "quantitative", "title": "[c] mg/L"}, "x2": {"field": "x2"}, "y": {"field": "d", "type": "quantitative", "title": "profondeur (m)"}}},
   {"data": {"name": "pts"}, "transform": [{"filter": "datum.p=='none'"}, {"fold": ["NO2","NO3","NH4","PO4"], "as": ["s","v"]}],
    "mark": {"type": "point", "filled": true, "opacity": 1, "strokeWidth": 1.2},
    "encoding": {"x": {"field": "v", "type": "quantitative", "title": "[c] mg/L"}, "y": {"field": "d", "type": "quantitative", "title": "profondeur (m)"},
     "shape": {"field": "s", "type": "nominal", "scale": {"domain": ["NO2","NO3","NH4","PO4"], "range": ["M-3.6,0H3.6M0,-1.35L1.35,0L0,1.35L-1.35,0Z","M-3.6,0H3.6M-1,-1H1V1H-1Z","M-3.6,0H3.6M0,-1.2L1.35,1.1H-1.35Z","M-3.6,0H3.6M-1,-1H1V1H-1Z"]}, "legend": {"title": null, "orient": "none", "legendX": -20, "legendY": 454}},
     "fill": {"field": "s", "type": "nominal", "scale": {"domain": ["NO2","NO3","NH4","PO4"], "range": ["#FF00FF","#000080","#008000","#FFFFFF"]}, "legend": {"title": null, "orient": "none", "legendX": -20, "legendY": 454}},
     "stroke": {"field": "s", "type": "nominal", "scale": {"domain": ["NO2","NO3","NH4","PO4"], "range": ["#FF00FF","#000080","#008000","#FF0000"]}, "legend": {"title": null, "orient": "none", "legendX": -20, "legendY": 454}}}}
  ]},
 {"data": {"values": []}, "mark": "point", "width": 96, "height": 1},
 {"width": 398, "height": 400, "title": {"text": "Gers mi-été (05/08/2011)", "offset": 8},
  "resolve": {"scale": {"stroke": "independent", "fill": "independent", "shape": "independent"}},
  "layer": [
   {"data": {"name": "pts"}, "transform": [{"filter": "datum.p=='GM'"}, {"fold": ["NO2","NO3","NH4","PO4"], "as": ["s","v"]}],
    "mark": {"type": "line", "interpolate": "catmull-rom", "strokeWidth": 1.2},
    "encoding": {
     "x": {"field": "v", "type": "quantitative", "title": "[c] mg/L", "scale": {"domain": [0,1.5], "nice": false, "zero": false},
      "axis": {"orient": "top", "values": [0,0.5,1,1.5], "format": ".1~f", "titleX": 414, "titleY": 24, "titleAlign": "right", "titleBaseline": "middle", "titleAngle": 0, "grid": false, "ticks": false, "labelPadding": 13}},
     "y": {"field": "d", "type": "quantitative", "title": "profondeur (m)", "scale": {"domain": [-4,0], "nice": false, "zero": false},
      "axis": {"values": [0,-1,-2,-3,-4], "format": "d", "grid": true, "ticks": false, "labelPadding": 12, "titlePadding": 12}},
     "stroke": {"field": "s", "type": "nominal", "scale": {"domain": ["NO2","NO3","NH4","PO4"], "range": ["#FF00FF","#000080","#008000","#FF0000"]}, "legend": null},
     "order": {"field": "d", "type": "quantitative"}}},
   {"data": {"name": "pts"}, "transform": [{"filter": "datum.p=='GM'"}, {"fold": ["NO2","NO3","NH4","PO4"], "as": ["s","v"]}],
    "mark": {"type": "point", "filled": true, "size": 81, "strokeWidth": 1.2, "opacity": 1},
    "encoding": {"x": {"field": "v", "type": "quantitative", "title": "[c] mg/L"}, "y": {"field": "d", "type": "quantitative", "title": "profondeur (m)"},
     "stroke": {"field": "s", "type": "nominal", "scale": {"domain": ["NO2","NO3","NH4","PO4"], "range": ["#FF00FF","#000080","#008000","#FF0000"]}, "legend": null},
     "fill": {"field": "s", "type": "nominal", "scale": {"domain": ["NO2","NO3","NH4","PO4"], "range": ["#FF00FF","#000080","#008000","#FFFFFF"]}, "legend": null},
     "shape": {"field": "s", "type": "nominal", "scale": {"domain": ["NO2","NO3","NH4","PO4"], "range": ["M0,-1.35L1.35,0L0,1.35L-1.35,0Z","M-1,-1H1V1H-1Z","M0,-1.2L1.35,1.1H-1.35Z","M-1,-1H1V1H-1Z"]}, "legend": null}}},
   {"data": {"name": "bands"}, "transform": [{"filter": "datum.p=='GM'"}], "mark": {"type": "rect", "fill": "#CCE3F8", "opacity": 0.44},
    "encoding": {"x": {"field": "x1", "type": "quantitative", "title": "[c] mg/L"}, "x2": {"field": "x2"}, "y": {"field": "t", "type": "quantitative", "title": "profondeur (m)"}, "y2": {"field": "b"}}},
   {"data": {"name": "bands"}, "transform": [{"filter": "datum.p=='GM'"}], "mark": {"type": "rule", "stroke": "#4A9FE8", "strokeWidth": 2},
    "encoding": {"x": {"field": "x1", "type": "quantitative", "title": "[c] mg/L"}, "x2": {"field": "x2"}, "y": {"field": "t", "type": "quantitative", "title": "profondeur (m)"}}},
   {"data": {"name": "bands"}, "transform": [{"filter": "datum.p=='GM'"}], "mark": {"type": "rule", "stroke": "#4A9FE8", "strokeWidth": 2},
    "encoding": {"x": {"field": "x1", "type": "quantitative", "title": "[c] mg/L"}, "x2": {"field": "x2"}, "y": {"field": "b", "type": "quantitative", "title": "profondeur (m)"}}},
   {"data": {"name": "secchi"}, "transform": [{"filter": "datum.p=='GM'"}], "mark": {"type": "rule", "stroke": "#FF0000", "strokeWidth": 10, "strokeCap": "butt"},
    "encoding": {"x": {"field": "x1", "type": "quantitative", "title": "[c] mg/L"}, "x2": {"field": "x2"}, "y": {"field": "d", "type": "quantitative", "title": "profondeur (m)"}}},
   {"data": {"name": "pts"}, "transform": [{"filter": "datum.p=='none'"}, {"fold": ["NO2","NO3","NH4","PO4"], "as": ["s","v"]}],
    "mark": {"type": "point", "filled": true, "opacity": 1, "strokeWidth": 1.2},
    "encoding": {"x": {"field": "v", "type": "quantitative", "title": "[c] mg/L"}, "y": {"field": "d", "type": "quantitative", "title": "profondeur (m)"},
     "shape": {"field": "s", "type": "nominal", "scale": {"domain": ["NO2","NO3","NH4","PO4"], "range": ["M-3.6,0H3.6M0,-1.35L1.35,0L0,1.35L-1.35,0Z","M-3.6,0H3.6M-1,-1H1V1H-1Z","M-3.6,0H3.6M0,-1.2L1.35,1.1H-1.35Z","M-3.6,0H3.6M-1,-1H1V1H-1Z"]}, "legend": {"title": null, "orient": "none", "legendX": -7, "legendY": 423}},
     "fill": {"field": "s", "type": "nominal", "scale": {"domain": ["NO2","NO3","NH4","PO4"], "range": ["#FF00FF","#000080","#008000","#FFFFFF"]}, "legend": {"title": null, "orient": "none", "legendX": -7, "legendY": 423}},
     "stroke": {"field": "s", "type": "nominal", "scale": {"domain": ["NO2","NO3","NH4","PO4"], "range": ["#FF00FF","#000080","#008000","#FF0000"]}, "legend": {"title": null, "orient": "none", "legendX": -7, "legendY": 423}}}}
  ]},
 {"data": {"values": []}, "mark": "point", "width": 90, "height": 1},
 {"width": 366, "height": 415, "title": {"text": "Lessy mi-été (11/08/2011)", "offset": 7},
  "resolve": {"scale": {"stroke": "independent", "fill": "independent", "shape": "independent"}},
  "layer": [
   {"data": {"name": "pts"}, "transform": [{"filter": "datum.p=='LM'"}, {"fold": ["NO2","NO3","NH4","PO4"], "as": ["s","v"]}],
    "mark": {"type": "line", "interpolate": "catmull-rom", "strokeWidth": 1.2},
    "encoding": {
     "x": {"field": "v", "type": "quantitative", "title": "[c] mg/L", "scale": {"domain": [0,1.5], "nice": false, "zero": false},
      "axis": {"orient": "top", "values": [0,0.5,1,1.5], "format": ".1~f", "titleX": 391, "titleY": 26, "titleAlign": "right", "titleBaseline": "middle", "titleAngle": 0, "grid": false, "ticks": false, "labelPadding": 13}},
     "y": {"field": "d", "type": "quantitative", "title": "profondeur (m)", "scale": {"domain": [-4,0], "nice": false, "zero": false},
      "axis": {"values": [0,-1,-2,-3,-4], "format": "d", "grid": true, "ticks": false, "labelPadding": 12, "titlePadding": 12}},
     "stroke": {"field": "s", "type": "nominal", "scale": {"domain": ["NO2","NO3","NH4","PO4"], "range": ["#FF00FF","#000080","#008000","#FF0000"]}, "legend": null},
     "order": {"field": "d", "type": "quantitative"}}},
   {"data": {"name": "pts"}, "transform": [{"filter": "datum.p=='LM'"}, {"fold": ["NO2","NO3","NH4","PO4"], "as": ["s","v"]}],
    "mark": {"type": "point", "filled": true, "size": 81, "strokeWidth": 1.2, "opacity": 1},
    "encoding": {"x": {"field": "v", "type": "quantitative", "title": "[c] mg/L"}, "y": {"field": "d", "type": "quantitative", "title": "profondeur (m)"},
     "stroke": {"field": "s", "type": "nominal", "scale": {"domain": ["NO2","NO3","NH4","PO4"], "range": ["#FF00FF","#000080","#008000","#FF0000"]}, "legend": null},
     "fill": {"field": "s", "type": "nominal", "scale": {"domain": ["NO2","NO3","NH4","PO4"], "range": ["#FF00FF","#000080","#008000","#FFFFFF"]}, "legend": null},
     "shape": {"field": "s", "type": "nominal", "scale": {"domain": ["NO2","NO3","NH4","PO4"], "range": ["M0,-1.35L1.35,0L0,1.35L-1.35,0Z","M-1,-1H1V1H-1Z","M0,-1.2L1.35,1.1H-1.35Z","M-1,-1H1V1H-1Z"]}, "legend": null}}},
   {"data": {"name": "secchi"}, "transform": [{"filter": "datum.p=='LM'"}], "mark": {"type": "rule", "stroke": "#FF0000", "strokeWidth": 10, "strokeCap": "butt"},
    "encoding": {"x": {"field": "x1", "type": "quantitative", "title": "[c] mg/L"}, "x2": {"field": "x2"}, "y": {"field": "d", "type": "quantitative", "title": "profondeur (m)"}}},
   {"data": {"name": "pts"}, "transform": [{"filter": "datum.p=='none'"}, {"fold": ["NO2","NO3","NH4","PO4"], "as": ["s","v"]}],
    "mark": {"type": "point", "filled": true, "opacity": 1, "strokeWidth": 1.2},
    "encoding": {"x": {"field": "v", "type": "quantitative", "title": "[c] mg/L"}, "y": {"field": "d", "type": "quantitative", "title": "profondeur (m)"},
     "shape": {"field": "s", "type": "nominal", "scale": {"domain": ["NO2","NO3","NH4","PO4"], "range": ["M-3.6,0H3.6M0,-1.35L1.35,0L0,1.35L-1.35,0Z","M-3.6,0H3.6M-1,-1H1V1H-1Z","M-3.6,0H3.6M0,-1.2L1.35,1.1H-1.35Z","M-3.6,0H3.6M-1,-1H1V1H-1Z"]}, "legend": {"title": null, "orient": "none", "legendX": -25, "legendY": 431}},
     "fill": {"field": "s", "type": "nominal", "scale": {"domain": ["NO2","NO3","NH4","PO4"], "range": ["#FF00FF","#000080","#008000","#FFFFFF"]}, "legend": {"title": null, "orient": "none", "legendX": -25, "legendY": 431}},
     "stroke": {"field": "s", "type": "nominal", "scale": {"domain": ["NO2","NO3","NH4","PO4"], "range": ["#FF00FF","#000080","#008000","#FF0000"]}, "legend": {"title": null, "orient": "none", "legendX": -25, "legendY": 431}}}}
  ]},
 {"data": {"values": []}, "mark": "point", "width": 663, "height": 1},
 {"width": 382, "height": 422, "title": {"text": "Vernant mi-été (28/07/2011)", "offset": 26},
  "resolve": {"scale": {"stroke": "independent", "fill": "independent", "shape": "independent"}},
  "layer": [
   {"data": {"name": "pts"}, "transform": [{"filter": "datum.p=='VM'"}, {"fold": ["NO2","NO3","NH4","PO4"], "as": ["s","v"]}],
    "mark": {"type": "line", "interpolate": "catmull-rom", "strokeWidth": 1.2},
    "encoding": {
     "x": {"field": "v", "type": "quantitative", "title": "[c] mg/L", "scale": {"domain": [0,1.5], "nice": false, "zero": false},
      "axis": {"orient": "top", "values": [0,0.5,1,1.5], "format": ".1~f", "titleX": 408, "titleY": 28, "titleAlign": "right", "titleBaseline": "middle", "titleAngle": 0, "grid": false, "ticks": false, "labelPadding": 13}},
     "y": {"field": "d", "type": "quantitative", "title": "profondeur (m)", "scale": {"domain": [-9,0], "nice": false, "zero": false},
      "axis": {"values": [0,-1,-2,-3,-4,-5,-6,-7,-8,-9], "format": "d", "grid": true, "ticks": false, "labelPadding": 12, "titlePadding": 12}},
     "stroke": {"field": "s", "type": "nominal", "scale": {"domain": ["NO2","NO3","NH4","PO4"], "range": ["#FF00FF","#000080","#008000","#FF0000"]}, "legend": null},
     "order": {"field": "d", "type": "quantitative"}}},
   {"data": {"name": "pts"}, "transform": [{"filter": "datum.p=='VM'"}, {"fold": ["NO2","NO3","NH4","PO4"], "as": ["s","v"]}],
    "mark": {"type": "point", "filled": true, "size": 81, "strokeWidth": 1.2, "opacity": 1},
    "encoding": {"x": {"field": "v", "type": "quantitative", "title": "[c] mg/L"}, "y": {"field": "d", "type": "quantitative", "title": "profondeur (m)"},
     "stroke": {"field": "s", "type": "nominal", "scale": {"domain": ["NO2","NO3","NH4","PO4"], "range": ["#FF00FF","#000080","#008000","#FF0000"]}, "legend": null},
     "fill": {"field": "s", "type": "nominal", "scale": {"domain": ["NO2","NO3","NH4","PO4"], "range": ["#FF00FF","#000080","#008000","#FFFFFF"]}, "legend": null},
     "shape": {"field": "s", "type": "nominal", "scale": {"domain": ["NO2","NO3","NH4","PO4"], "range": ["M0,-1.35L1.35,0L0,1.35L-1.35,0Z","M-1,-1H1V1H-1Z","M0,-1.2L1.35,1.1H-1.35Z","M-1,-1H1V1H-1Z"]}, "legend": null}}},
   {"data": {"name": "bands"}, "transform": [{"filter": "datum.p=='VM'"}], "mark": {"type": "rect", "fill": "#CCE3F8", "opacity": 0.44},
    "encoding": {"x": {"field": "x1", "type": "quantitative", "title": "[c] mg/L"}, "x2": {"field": "x2"}, "y": {"field": "t", "type": "quantitative", "title": "profondeur (m)"}, "y2": {"field": "b"}}},
   {"data": {"name": "bands"}, "transform": [{"filter": "datum.p=='VM'"}], "mark": {"type": "rule", "stroke": "#4A9FE8", "strokeWidth": 2},
    "encoding": {"x": {"field": "x1", "type": "quantitative", "title": "[c] mg/L"}, "x2": {"field": "x2"}, "y": {"field": "t", "type": "quantitative", "title": "profondeur (m)"}}},
   {"data": {"name": "bands"}, "transform": [{"filter": "datum.p=='VM'"}], "mark": {"type": "rule", "stroke": "#4A9FE8", "strokeWidth": 2},
    "encoding": {"x": {"field": "x1", "type": "quantitative", "title": "[c] mg/L"}, "x2": {"field": "x2"}, "y": {"field": "b", "type": "quantitative", "title": "profondeur (m)"}}},
   {"data": {"name": "secchi"}, "transform": [{"filter": "datum.p=='VM'"}], "mark": {"type": "rule", "stroke": "#FF0000", "strokeWidth": 10, "strokeCap": "butt"},
    "encoding": {"x": {"field": "x1", "type": "quantitative", "title": "[c] mg/L"}, "x2": {"field": "x2"}, "y": {"field": "d", "type": "quantitative", "title": "profondeur (m)"}}},
   {"data": {"name": "pts"}, "transform": [{"filter": "datum.p=='none'"}, {"fold": ["NO2","NO3","NH4","PO4"], "as": ["s","v"]}],
    "mark": {"type": "point", "filled": true, "opacity": 1, "strokeWidth": 1.2},
    "encoding": {"x": {"field": "v", "type": "quantitative", "title": "[c] mg/L"}, "y": {"field": "d", "type": "quantitative", "title": "profondeur (m)"},
     "shape": {"field": "s", "type": "nominal", "scale": {"domain": ["NO2","NO3","NH4","PO4"], "range": ["M-3.6,0H3.6M0,-1.35L1.35,0L0,1.35L-1.35,0Z","M-3.6,0H3.6M-1,-1H1V1H-1Z","M-3.6,0H3.6M0,-1.2L1.35,1.1H-1.35Z","M-3.6,0H3.6M-1,-1H1V1H-1Z"]}, "legend": {"title": null, "orient": "none", "legendX": -24, "legendY": 445}},
     "fill": {"field": "s", "type": "nominal", "scale": {"domain": ["NO2","NO3","NH4","PO4"], "range": ["#FF00FF","#000080","#008000","#FFFFFF"]}, "legend": {"title": null, "orient": "none", "legendX": -24, "legendY": 445}},
     "stroke": {"field": "s", "type": "nominal", "scale": {"domain": ["NO2","NO3","NH4","PO4"], "range": ["#FF00FF","#000080","#008000","#FF0000"]}, "legend": {"title": null, "orient": "none", "legendX": -24, "legendY": 445}}}}
  ]}
 ]},
{"data": {"values": []}, "mark": "point", "width": 1, "height": 36},
{"spacing": 0, "resolve": {"scale": {"stroke": "independent", "fill": "independent", "shape": "independent"}},
 "hconcat": [
 {"width": 404, "height": 437, "title": {"text": "Arvouin fin d'été (07/09/2011)", "offset": 19},
  "resolve": {"scale": {"stroke": "independent", "fill": "independent", "shape": "independent"}},
  "layer": [
   {"data": {"name": "pts"}, "transform": [{"filter": "datum.p=='AF'"}, {"fold": ["NO2","NO3","NH4","PO4"], "as": ["s","v"]}],
    "mark": {"type": "line", "interpolate": "catmull-rom", "strokeWidth": 1.2},
    "encoding": {
     "x": {"field": "v", "type": "quantitative", "title": "[c] mg/L", "scale": {"domain": [0,1.5], "nice": false, "zero": false},
      "axis": {"orient": "top", "values": [0,0.5,1,1.5], "format": ".1~f", "titleX": 418, "titleY": 26, "titleAlign": "right", "titleBaseline": "middle", "titleAngle": 0, "grid": false, "ticks": false, "labelPadding": 13}},
     "y": {"field": "d", "type": "quantitative", "title": "profondeur (m)", "scale": {"domain": [-8,0], "nice": false, "zero": false},
      "axis": {"values": [0,-1,-2,-3,-4,-5,-6,-7,-8], "format": "d", "grid": true, "ticks": false, "labelPadding": 12, "titlePadding": 12}},
     "stroke": {"field": "s", "type": "nominal", "scale": {"domain": ["NO2","NO3","NH4","PO4"], "range": ["#FF00FF","#000080","#008000","#FF0000"]}, "legend": null},
     "order": {"field": "d", "type": "quantitative"}}},
   {"data": {"name": "pts"}, "transform": [{"filter": "datum.p=='AF'"}, {"fold": ["NO2","NO3","NH4","PO4"], "as": ["s","v"]}],
    "mark": {"type": "point", "filled": true, "size": 81, "strokeWidth": 1.2, "opacity": 1},
    "encoding": {"x": {"field": "v", "type": "quantitative", "title": "[c] mg/L"}, "y": {"field": "d", "type": "quantitative", "title": "profondeur (m)"},
     "stroke": {"field": "s", "type": "nominal", "scale": {"domain": ["NO2","NO3","NH4","PO4"], "range": ["#FF00FF","#000080","#008000","#FF0000"]}, "legend": null},
     "fill": {"field": "s", "type": "nominal", "scale": {"domain": ["NO2","NO3","NH4","PO4"], "range": ["#FF00FF","#000080","#008000","#FFFFFF"]}, "legend": null},
     "shape": {"field": "s", "type": "nominal", "scale": {"domain": ["NO2","NO3","NH4","PO4"], "range": ["M0,-1.35L1.35,0L0,1.35L-1.35,0Z","M-1,-1H1V1H-1Z","M0,-1.2L1.35,1.1H-1.35Z","M-1,-1H1V1H-1Z"]}, "legend": null}}},
   {"data": {"name": "secchi"}, "transform": [{"filter": "datum.p=='AF'"}], "mark": {"type": "rule", "stroke": "#FF0000", "strokeWidth": 10, "strokeCap": "butt"},
    "encoding": {"x": {"field": "x1", "type": "quantitative", "title": "[c] mg/L"}, "x2": {"field": "x2"}, "y": {"field": "d", "type": "quantitative", "title": "profondeur (m)"}}},
   {"data": {"name": "pts"}, "transform": [{"filter": "datum.p=='none'"}, {"fold": ["NO2","NO3","NH4","PO4"], "as": ["s","v"]}],
    "mark": {"type": "point", "filled": true, "opacity": 1, "strokeWidth": 1.2},
    "encoding": {"x": {"field": "v", "type": "quantitative", "title": "[c] mg/L"}, "y": {"field": "d", "type": "quantitative", "title": "profondeur (m)"},
     "shape": {"field": "s", "type": "nominal", "scale": {"domain": ["NO2","NO3","NH4","PO4"], "range": ["M-3.6,0H3.6M0,-1.35L1.35,0L0,1.35L-1.35,0Z","M-3.6,0H3.6M-1,-1H1V1H-1Z","M-3.6,0H3.6M0,-1.2L1.35,1.1H-1.35Z","M-3.6,0H3.6M-1,-1H1V1H-1Z"]}, "legend": {"title": null, "orient": "none", "legendX": -22, "legendY": 453}},
     "fill": {"field": "s", "type": "nominal", "scale": {"domain": ["NO2","NO3","NH4","PO4"], "range": ["#FF00FF","#000080","#008000","#FFFFFF"]}, "legend": {"title": null, "orient": "none", "legendX": -22, "legendY": 453}},
     "stroke": {"field": "s", "type": "nominal", "scale": {"domain": ["NO2","NO3","NH4","PO4"], "range": ["#FF00FF","#000080","#008000","#FF0000"]}, "legend": {"title": null, "orient": "none", "legendX": -22, "legendY": 453}}}}
  ]},
 {"data": {"values": []}, "mark": "point", "width": 99, "height": 1},
 {"width": 398, "height": 403, "title": {"text": "Gers fin d'été (06/09/2011)", "offset": 19},
  "resolve": {"scale": {"stroke": "independent", "fill": "independent", "shape": "independent"}},
  "layer": [
   {"data": {"name": "pts"}, "transform": [{"filter": "datum.p=='GF'"}, {"fold": ["NO2","NO3","NH4","PO4"], "as": ["s","v"]}],
    "mark": {"type": "line", "interpolate": "catmull-rom", "strokeWidth": 1.2},
    "encoding": {
     "x": {"field": "v", "type": "quantitative", "title": "[c] mg/L", "scale": {"domain": [0,1.5], "nice": false, "zero": false},
      "axis": {"orient": "top", "values": [0,0.5,1,1.5], "format": ".1~f", "titleX": 414, "titleY": 25, "titleAlign": "right", "titleBaseline": "middle", "titleAngle": 0, "grid": false, "ticks": false, "labelPadding": 13}},
     "y": {"field": "d", "type": "quantitative", "title": "profondeur (m)", "scale": {"domain": [-4,0], "nice": false, "zero": false},
      "axis": {"values": [0,-1,-2,-3,-4], "format": "d", "grid": true, "ticks": false, "labelPadding": 12, "titlePadding": 12}},
     "stroke": {"field": "s", "type": "nominal", "scale": {"domain": ["NO2","NO3","NH4","PO4"], "range": ["#FF00FF","#000080","#008000","#FF0000"]}, "legend": null},
     "order": {"field": "d", "type": "quantitative"}}},
   {"data": {"name": "pts"}, "transform": [{"filter": "datum.p=='GF'"}, {"fold": ["NO2","NO3","NH4","PO4"], "as": ["s","v"]}],
    "mark": {"type": "point", "filled": true, "size": 81, "strokeWidth": 1.2, "opacity": 1},
    "encoding": {"x": {"field": "v", "type": "quantitative", "title": "[c] mg/L"}, "y": {"field": "d", "type": "quantitative", "title": "profondeur (m)"},
     "stroke": {"field": "s", "type": "nominal", "scale": {"domain": ["NO2","NO3","NH4","PO4"], "range": ["#FF00FF","#000080","#008000","#FF0000"]}, "legend": null},
     "fill": {"field": "s", "type": "nominal", "scale": {"domain": ["NO2","NO3","NH4","PO4"], "range": ["#FF00FF","#000080","#008000","#FFFFFF"]}, "legend": null},
     "shape": {"field": "s", "type": "nominal", "scale": {"domain": ["NO2","NO3","NH4","PO4"], "range": ["M0,-1.35L1.35,0L0,1.35L-1.35,0Z","M-1,-1H1V1H-1Z","M0,-1.2L1.35,1.1H-1.35Z","M-1,-1H1V1H-1Z"]}, "legend": null}}},
   {"data": {"name": "secchi"}, "transform": [{"filter": "datum.p=='GF'"}], "mark": {"type": "rule", "stroke": "#FF0000", "strokeWidth": 10, "strokeCap": "butt"},
    "encoding": {"x": {"field": "x1", "type": "quantitative", "title": "[c] mg/L"}, "x2": {"field": "x2"}, "y": {"field": "d", "type": "quantitative", "title": "profondeur (m)"}}},
   {"data": {"name": "pts"}, "transform": [{"filter": "datum.p=='none'"}, {"fold": ["NO2","NO3","NH4","PO4"], "as": ["s","v"]}],
    "mark": {"type": "point", "filled": true, "opacity": 1, "strokeWidth": 1.2},
    "encoding": {"x": {"field": "v", "type": "quantitative", "title": "[c] mg/L"}, "y": {"field": "d", "type": "quantitative", "title": "profondeur (m)"},
     "shape": {"field": "s", "type": "nominal", "scale": {"domain": ["NO2","NO3","NH4","PO4"], "range": ["M-3.6,0H3.6M0,-1.35L1.35,0L0,1.35L-1.35,0Z","M-3.6,0H3.6M-1,-1H1V1H-1Z","M-3.6,0H3.6M0,-1.2L1.35,1.1H-1.35Z","M-3.6,0H3.6M-1,-1H1V1H-1Z"]}, "legend": {"title": null, "orient": "none", "legendX": -7, "legendY": 426}},
     "fill": {"field": "s", "type": "nominal", "scale": {"domain": ["NO2","NO3","NH4","PO4"], "range": ["#FF00FF","#000080","#008000","#FFFFFF"]}, "legend": {"title": null, "orient": "none", "legendX": -7, "legendY": 426}},
     "stroke": {"field": "s", "type": "nominal", "scale": {"domain": ["NO2","NO3","NH4","PO4"], "range": ["#FF00FF","#000080","#008000","#FF0000"]}, "legend": {"title": null, "orient": "none", "legendX": -7, "legendY": 426}}}}
  ]},
 {"data": {"values": []}, "mark": "point", "width": 90, "height": 1},
 {"width": 366, "height": 415, "title": {"text": "Lessy fiin d'été (08/09/2011)", "offset": 8},
  "resolve": {"scale": {"stroke": "independent", "fill": "independent", "shape": "independent"}},
  "layer": [
   {"data": {"name": "pts"}, "transform": [{"filter": "datum.p=='LF'"}, {"fold": ["NO2","NO3","NH4","PO4"], "as": ["s","v"]}],
    "mark": {"type": "line", "interpolate": "catmull-rom", "strokeWidth": 1.2},
    "encoding": {
     "x": {"field": "v", "type": "quantitative", "title": "[c] mg/L", "scale": {"domain": [0,1.5], "nice": false, "zero": false},
      "axis": {"orient": "top", "values": [0,0.5,1,1.5], "format": ".1~f", "titleX": 391, "titleY": 27, "titleAlign": "right", "titleBaseline": "middle", "titleAngle": 0, "grid": false, "ticks": false, "labelPadding": 13}},
     "y": {"field": "d", "type": "quantitative", "title": "profondeur (m)", "scale": {"domain": [-4,0], "nice": false, "zero": false},
      "axis": {"values": [0,-1,-2,-3,-4], "format": "d", "grid": true, "ticks": false, "labelPadding": 12, "titlePadding": 12}},
     "stroke": {"field": "s", "type": "nominal", "scale": {"domain": ["NO2","NO3","NH4","PO4"], "range": ["#FF00FF","#000080","#008000","#FF0000"]}, "legend": null},
     "order": {"field": "d", "type": "quantitative"}}},
   {"data": {"name": "pts"}, "transform": [{"filter": "datum.p=='LF'"}, {"fold": ["NO2","NO3","NH4","PO4"], "as": ["s","v"]}],
    "mark": {"type": "point", "filled": true, "size": 81, "strokeWidth": 1.2, "opacity": 1},
    "encoding": {"x": {"field": "v", "type": "quantitative", "title": "[c] mg/L"}, "y": {"field": "d", "type": "quantitative", "title": "profondeur (m)"},
     "stroke": {"field": "s", "type": "nominal", "scale": {"domain": ["NO2","NO3","NH4","PO4"], "range": ["#FF00FF","#000080","#008000","#FF0000"]}, "legend": null},
     "fill": {"field": "s", "type": "nominal", "scale": {"domain": ["NO2","NO3","NH4","PO4"], "range": ["#FF00FF","#000080","#008000","#FFFFFF"]}, "legend": null},
     "shape": {"field": "s", "type": "nominal", "scale": {"domain": ["NO2","NO3","NH4","PO4"], "range": ["M0,-1.35L1.35,0L0,1.35L-1.35,0Z","M-1,-1H1V1H-1Z","M0,-1.2L1.35,1.1H-1.35Z","M-1,-1H1V1H-1Z"]}, "legend": null}}},
   {"data": {"name": "secchi"}, "transform": [{"filter": "datum.p=='LF'"}], "mark": {"type": "rule", "stroke": "#FF0000", "strokeWidth": 10, "strokeCap": "butt"},
    "encoding": {"x": {"field": "x1", "type": "quantitative", "title": "[c] mg/L"}, "x2": {"field": "x2"}, "y": {"field": "d", "type": "quantitative", "title": "profondeur (m)"}}},
   {"data": {"name": "pts"}, "transform": [{"filter": "datum.p=='none'"}, {"fold": ["NO2","NO3","NH4","PO4"], "as": ["s","v"]}],
    "mark": {"type": "point", "filled": true, "opacity": 1, "strokeWidth": 1.2},
    "encoding": {"x": {"field": "v", "type": "quantitative", "title": "[c] mg/L"}, "y": {"field": "d", "type": "quantitative", "title": "profondeur (m)"},
     "shape": {"field": "s", "type": "nominal", "scale": {"domain": ["NO2","NO3","NH4","PO4"], "range": ["M-3.6,0H3.6M0,-1.35L1.35,0L0,1.35L-1.35,0Z","M-3.6,0H3.6M-1,-1H1V1H-1Z","M-3.6,0H3.6M0,-1.2L1.35,1.1H-1.35Z","M-3.6,0H3.6M-1,-1H1V1H-1Z"]}, "legend": {"title": null, "orient": "none", "legendX": -25, "legendY": 431}},
     "fill": {"field": "s", "type": "nominal", "scale": {"domain": ["NO2","NO3","NH4","PO4"], "range": ["#FF00FF","#000080","#008000","#FFFFFF"]}, "legend": {"title": null, "orient": "none", "legendX": -25, "legendY": 431}},
     "stroke": {"field": "s", "type": "nominal", "scale": {"domain": ["NO2","NO3","NH4","PO4"], "range": ["#FF00FF","#000080","#008000","#FF0000"]}, "legend": {"title": null, "orient": "none", "legendX": -25, "legendY": 431}}}}
  ]},
 {"data": {"values": []}, "mark": "point", "width": 150, "height": 1},
 {"width": 378, "height": 421, "title": {"text": "Tavaneuse fin d'été (07/09/2011)", "offset": 9},
  "resolve": {"scale": {"stroke": "independent", "fill": "independent", "shape": "independent"}},
  "layer": [
   {"data": {"name": "pts"}, "transform": [{"filter": "datum.p=='TF'"}, {"fold": ["NO2","NO3","NH4","PO4"], "as": ["s","v"]}],
    "mark": {"type": "line", "interpolate": "catmull-rom", "strokeWidth": 1.2},
    "encoding": {
     "x": {"field": "v", "type": "quantitative", "title": "[c] mg/L", "scale": {"domain": [0,1.5], "nice": false, "zero": false},
      "axis": {"orient": "top", "values": [0,0.5,1,1.5], "format": ".2f", "titleX": 403, "titleY": 27, "titleAlign": "right", "titleBaseline": "middle", "titleAngle": 0, "grid": false, "ticks": false, "labelPadding": 13}},
     "y": {"field": "d", "type": "quantitative", "title": "profondeur (m)", "scale": {"domain": [-5,0], "nice": false, "zero": false},
      "axis": {"values": [0,-1,-2,-3,-4,-5], "format": "d", "grid": true, "ticks": false, "labelPadding": 12, "titlePadding": 12}},
     "stroke": {"field": "s", "type": "nominal", "scale": {"domain": ["NO2","NO3","NH4","PO4"], "range": ["#FF00FF","#000080","#008000","#FF0000"]}, "legend": null},
     "order": {"field": "d", "type": "quantitative"}}},
   {"data": {"name": "pts"}, "transform": [{"filter": "datum.p=='TF'"}, {"fold": ["NO2","NO3","NH4","PO4"], "as": ["s","v"]}],
    "mark": {"type": "point", "filled": true, "size": 81, "strokeWidth": 1.2, "opacity": 1},
    "encoding": {"x": {"field": "v", "type": "quantitative", "title": "[c] mg/L"}, "y": {"field": "d", "type": "quantitative", "title": "profondeur (m)"},
     "stroke": {"field": "s", "type": "nominal", "scale": {"domain": ["NO2","NO3","NH4","PO4"], "range": ["#FF00FF","#000080","#008000","#FF0000"]}, "legend": null},
     "fill": {"field": "s", "type": "nominal", "scale": {"domain": ["NO2","NO3","NH4","PO4"], "range": ["#FF00FF","#000080","#008000","#FFFFFF"]}, "legend": null},
     "shape": {"field": "s", "type": "nominal", "scale": {"domain": ["NO2","NO3","NH4","PO4"], "range": ["M0,-1.35L1.35,0L0,1.35L-1.35,0Z","M-1,-1H1V1H-1Z","M0,-1.2L1.35,1.1H-1.35Z","M-1,-1H1V1H-1Z"]}, "legend": null}}},
   {"data": {"name": "bands"}, "transform": [{"filter": "datum.p=='TF'"}], "mark": {"type": "rect", "fill": "#CCE3F8", "opacity": 0.44},
    "encoding": {"x": {"field": "x1", "type": "quantitative", "title": "[c] mg/L"}, "x2": {"field": "x2"}, "y": {"field": "t", "type": "quantitative", "title": "profondeur (m)"}, "y2": {"field": "b"}}},
   {"data": {"name": "bands"}, "transform": [{"filter": "datum.p=='TF'"}], "mark": {"type": "rule", "stroke": "#4A9FE8", "strokeWidth": 2},
    "encoding": {"x": {"field": "x1", "type": "quantitative", "title": "[c] mg/L"}, "x2": {"field": "x2"}, "y": {"field": "t", "type": "quantitative", "title": "profondeur (m)"}}},
   {"data": {"name": "bands"}, "transform": [{"filter": "datum.p=='TF'"}], "mark": {"type": "rule", "stroke": "#4A9FE8", "strokeWidth": 2},
    "encoding": {"x": {"field": "x1", "type": "quantitative", "title": "[c] mg/L"}, "x2": {"field": "x2"}, "y": {"field": "b", "type": "quantitative", "title": "profondeur (m)"}}},
   {"data": {"name": "secchi"}, "transform": [{"filter": "datum.p=='TF'"}], "mark": {"type": "rule", "stroke": "#FF0000", "strokeWidth": 10, "strokeCap": "butt"},
    "encoding": {"x": {"field": "x1", "type": "quantitative", "title": "[c] mg/L"}, "x2": {"field": "x2"}, "y": {"field": "d", "type": "quantitative", "title": "profondeur (m)"}}},
   {"data": {"name": "pts"}, "transform": [{"filter": "datum.p=='none'"}, {"fold": ["NO2","NO3","NH4","PO4"], "as": ["s","v"]}],
    "mark": {"type": "point", "filled": true, "opacity": 1, "strokeWidth": 1.2},
    "encoding": {"x": {"field": "v", "type": "quantitative", "title": "[c] mg/L"}, "y": {"field": "d", "type": "quantitative", "title": "profondeur (m)"},
     "shape": {"field": "s", "type": "nominal", "scale": {"domain": ["NO2","NO3","NH4","PO4"], "range": ["M-3.6,0H3.6M0,-1.35L1.35,0L0,1.35L-1.35,0Z","M-3.6,0H3.6M-1,-1H1V1H-1Z","M-3.6,0H3.6M0,-1.2L1.35,1.1H-1.35Z","M-3.6,0H3.6M-1,-1H1V1H-1Z"]}, "legend": {"title": null, "orient": "none", "legendX": -23, "legendY": 442}},
     "fill": {"field": "s", "type": "nominal", "scale": {"domain": ["NO2","NO3","NH4","PO4"], "range": ["#FF00FF","#000080","#008000","#FFFFFF"]}, "legend": {"title": null, "orient": "none", "legendX": -23, "legendY": 442}},
     "stroke": {"field": "s", "type": "nominal", "scale": {"domain": ["NO2","NO3","NH4","PO4"], "range": ["#FF00FF","#000080","#008000","#FF0000"]}, "legend": {"title": null, "orient": "none", "legendX": -23, "legendY": 442}}}}
  ]},
 {"data": {"values": []}, "mark": "point", "width": 58, "height": 1},
 {"width": 384, "height": 420, "title": {"text": "Vernant fin d'été (02/09/2011)", "offset": 12},
  "resolve": {"scale": {"stroke": "independent", "fill": "independent", "shape": "independent"}},
  "layer": [
   {"data": {"name": "pts"}, "transform": [{"filter": "datum.p=='VF'"}, {"fold": ["NO2","NO3","NH4","PO4"], "as": ["s","v"]}],
    "mark": {"type": "line", "interpolate": "catmull-rom", "strokeWidth": 1.2},
    "encoding": {
     "x": {"field": "v", "type": "quantitative", "title": "[c] mg/L", "scale": {"domain": [0,1.5], "nice": false, "zero": false},
      "axis": {"orient": "top", "values": [0,0.5,1,1.5], "format": ".1~f", "titleX": 408, "titleY": 26, "titleAlign": "right", "titleBaseline": "middle", "titleAngle": 0, "grid": false, "ticks": false, "labelPadding": 13}},
     "y": {"field": "d", "type": "quantitative", "title": "profondeur (m)", "scale": {"domain": [-9,0], "nice": false, "zero": false},
      "axis": {"values": [0,-1,-2,-3,-4,-5,-6,-7,-8,-9], "format": "d", "grid": true, "ticks": false, "labelPadding": 12, "titlePadding": 12}},
     "stroke": {"field": "s", "type": "nominal", "scale": {"domain": ["NO2","NO3","NH4","PO4"], "range": ["#FF00FF","#000080","#008000","#FF0000"]}, "legend": null},
     "order": {"field": "d", "type": "quantitative"}}},
   {"data": {"name": "pts"}, "transform": [{"filter": "datum.p=='VF'"}, {"fold": ["NO2","NO3","NH4","PO4"], "as": ["s","v"]}],
    "mark": {"type": "point", "filled": true, "size": 81, "strokeWidth": 1.2, "opacity": 1},
    "encoding": {"x": {"field": "v", "type": "quantitative", "title": "[c] mg/L"}, "y": {"field": "d", "type": "quantitative", "title": "profondeur (m)"},
     "stroke": {"field": "s", "type": "nominal", "scale": {"domain": ["NO2","NO3","NH4","PO4"], "range": ["#FF00FF","#000080","#008000","#FF0000"]}, "legend": null},
     "fill": {"field": "s", "type": "nominal", "scale": {"domain": ["NO2","NO3","NH4","PO4"], "range": ["#FF00FF","#000080","#008000","#FFFFFF"]}, "legend": null},
     "shape": {"field": "s", "type": "nominal", "scale": {"domain": ["NO2","NO3","NH4","PO4"], "range": ["M0,-1.35L1.35,0L0,1.35L-1.35,0Z","M-1,-1H1V1H-1Z","M0,-1.2L1.35,1.1H-1.35Z","M-1,-1H1V1H-1Z"]}, "legend": null}}},
   {"data": {"name": "bands"}, "transform": [{"filter": "datum.p=='VF'"}], "mark": {"type": "rect", "fill": "#CCE3F8", "opacity": 0.44},
    "encoding": {"x": {"field": "x1", "type": "quantitative", "title": "[c] mg/L"}, "x2": {"field": "x2"}, "y": {"field": "t", "type": "quantitative", "title": "profondeur (m)"}, "y2": {"field": "b"}}},
   {"data": {"name": "bands"}, "transform": [{"filter": "datum.p=='VF'"}], "mark": {"type": "rule", "stroke": "#4A9FE8", "strokeWidth": 2},
    "encoding": {"x": {"field": "x1", "type": "quantitative", "title": "[c] mg/L"}, "x2": {"field": "x2"}, "y": {"field": "t", "type": "quantitative", "title": "profondeur (m)"}}},
   {"data": {"name": "bands"}, "transform": [{"filter": "datum.p=='VF'"}], "mark": {"type": "rule", "stroke": "#4A9FE8", "strokeWidth": 2},
    "encoding": {"x": {"field": "x1", "type": "quantitative", "title": "[c] mg/L"}, "x2": {"field": "x2"}, "y": {"field": "b", "type": "quantitative", "title": "profondeur (m)"}}},
   {"data": {"name": "secchi"}, "transform": [{"filter": "datum.p=='VF'"}], "mark": {"type": "rule", "stroke": "#FF0000", "strokeWidth": 10, "strokeCap": "butt"},
    "encoding": {"x": {"field": "x1", "type": "quantitative", "title": "[c] mg/L"}, "x2": {"field": "x2"}, "y": {"field": "d", "type": "quantitative", "title": "profondeur (m)"}}},
   {"data": {"name": "pts"}, "transform": [{"filter": "datum.p=='none'"}, {"fold": ["NO2","NO3","NH4","PO4"], "as": ["s","v"]}],
    "mark": {"type": "point", "filled": true, "opacity": 1, "strokeWidth": 1.2},
    "encoding": {"x": {"field": "v", "type": "quantitative", "title": "[c] mg/L"}, "y": {"field": "d", "type": "quantitative", "title": "profondeur (m)"},
     "shape": {"field": "s", "type": "nominal", "scale": {"domain": ["NO2","NO3","NH4","PO4"], "range": ["M-3.6,0H3.6M0,-1.35L1.35,0L0,1.35L-1.35,0Z","M-3.6,0H3.6M-1,-1H1V1H-1Z","M-3.6,0H3.6M0,-1.2L1.35,1.1H-1.35Z","M-3.6,0H3.6M-1,-1H1V1H-1Z"]}, "legend": {"title": null, "orient": "none", "legendX": -22, "legendY": 442}},
     "fill": {"field": "s", "type": "nominal", "scale": {"domain": ["NO2","NO3","NH4","PO4"], "range": ["#FF00FF","#000080","#008000","#FFFFFF"]}, "legend": {"title": null, "orient": "none", "legendX": -22, "legendY": 442}},
     "stroke": {"field": "s", "type": "nominal", "scale": {"domain": ["NO2","NO3","NH4","PO4"], "range": ["#FF00FF","#000080","#008000","#FF0000"]}, "legend": {"title": null, "orient": "none", "legendX": -22, "legendY": 442}}}}
  ]}
 ]}
]
}
